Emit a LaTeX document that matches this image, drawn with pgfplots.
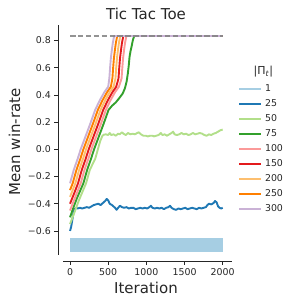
\documentclass[border=0pt]{standalone}
\usepackage{fontspec}
\setmainfont{DejaVu Sans}
\usepackage{pgfplots}
\pgfplotsset{compat=1.18}
\definecolor{c1}{HTML}{A6CEE3}
\definecolor{c25}{HTML}{1F78B4}
\definecolor{c50}{HTML}{B2DF8A}
\definecolor{c75}{HTML}{33A02C}
\definecolor{c100}{HTML}{FB9A99}
\definecolor{c150}{HTML}{E31A1C}
\definecolor{c200}{HTML}{FDBF6F}
\definecolor{c250}{HTML}{FF7F00}
\definecolor{c300}{HTML}{CAB2D6}
\definecolor{tg}{HTML}{262626}
\begin{document}
\begin{tikzpicture}
\path[use as bounding box] (0,0) rectangle (297pt,304pt);
\begin{axis}[
  at={(63.3pt,49pt)}, anchor=south west,
  scale only axis, width=168.4pt, height=230pt,
  xmin=-88, xmax=2118, ymin=-0.777, ymax=0.914,
  axis x line*=bottom, axis y line*=left,
  axis line style={-, draw=tg, line width=0.8pt},
  x axis line style={yshift=-6pt},
  y axis line style={xshift=-5pt},
  tick align=outside, major tick length=4pt,
  xtick style={yshift=-6pt, draw=tg, line width=0.8pt},
  ytick style={xshift=-5pt, draw=tg, line width=0.8pt},
  xtick={0,500,1000,1500,2000},
  xticklabels={0,500,1000,1500,2000},
  ytick={-0.6,-0.4,-0.2,0,0.2,0.4,0.6,0.8},
  yticklabels={−0.6,−0.4,−0.2,0.0,0.2,0.4,0.6,0.8},
  xticklabel style={yshift=-6pt, font=\fontsize{9.4}{11}\selectfont, text=tg},
  yticklabel style={xshift=-5pt, font=\fontsize{9.4}{11}\selectfont, text=tg},
  legend style={at={(1.037,0.742)}, anchor=north west, draw=none, fill=none,
    font=\fontsize{9.4}{11}\selectfont, text=tg, inner sep=0pt, row sep=6pt,
    nodes={inner xsep=3pt, inner ysep=0pt, text height=7pt, text depth=2pt}},
  legend cell align=left,
  legend image code/.code={\draw[#1] (0pt,0pt) -- (22pt,0pt);},
  every axis plot/.append style={line width=1.9pt, line join=round},
]
\addlegendimage{c1, line width=1.9pt}
\addlegendentry{1}
\addplot[c1, line width=14pt, forget plot] coordinates {(0,-0.704)(2000,-0.704)};
% 25
\addplot[c25] coordinates {(0,-0.6)(15,-0.57)(30,-0.52)(45,-0.47)(60,-0.44)(80,-0.43)(100,-0.435)(130,-0.43)(160,-0.435)(190,-0.43)(220,-0.425)(250,-0.43)(280,-0.42)(310,-0.41)(340,-0.405)(370,-0.4)(400,-0.41)(430,-0.395)(460,-0.38)(480,-0.365)(500,-0.375)(520,-0.4)(550,-0.41)(570,-0.42)(590,-0.43)(610,-0.445)(630,-0.43)(655,-0.415)(680,-0.425)(710,-0.43)(740,-0.425)(770,-0.435)(800,-0.43)(830,-0.43)(860,-0.44)(890,-0.435)(920,-0.43)(950,-0.435)(980,-0.43)(1010,-0.435)(1040,-0.425)(1060,-0.415)(1080,-0.43)(1110,-0.435)(1140,-0.43)(1170,-0.435)(1200,-0.43)(1230,-0.44)(1260,-0.43)(1290,-0.425)(1310,-0.415)(1330,-0.43)(1360,-0.44)(1390,-0.445)(1420,-0.435)(1450,-0.44)(1480,-0.435)(1510,-0.43)(1540,-0.44)(1570,-0.435)(1600,-0.43)(1630,-0.435)(1660,-0.44)(1690,-0.43)(1720,-0.435)(1750,-0.43)(1780,-0.425)(1800,-0.41)(1820,-0.4)(1850,-0.405)(1880,-0.395)(1900,-0.38)(1920,-0.39)(1940,-0.42)(1960,-0.43)(1980,-0.435)(2000,-0.43)};
\addlegendentry{25}
% 50
\addplot[c50] coordinates {(0,-0.55)(60,-0.46)(120,-0.37)(210,-0.25)(260,-0.15)(330,-0.07)(365,0.0)(395,0.06)(425,0.1)(445,0.108)(470,0.11)(500,0.105)(520,0.12)(540,0.105)(570,0.11)(600,0.1)(630,0.115)(650,0.11)(680,0.125)(700,0.115)(730,0.105)(760,0.12)(790,0.11)(820,0.115)(850,0.11)(880,0.12)(900,0.125)(930,0.11)(960,0.1)(990,0.1)(1020,0.095)(1050,0.1)(1080,0.1)(1100,0.095)(1130,0.1)(1160,0.105)(1190,0.12)(1210,0.105)(1240,0.11)(1270,0.1)(1300,0.11)(1330,0.12)(1350,0.13)(1370,0.11)(1400,0.105)(1430,0.11)(1460,0.12)(1490,0.11)(1520,0.115)(1550,0.105)(1580,0.11)(1610,0.12)(1640,0.11)(1670,0.115)(1700,0.12)(1730,0.115)(1760,0.105)(1790,0.1)(1820,0.11)(1850,0.105)(1880,0.115)(1910,0.12)(1940,0.13)(1970,0.14)(2000,0.145)};
\addlegendentry{50}
% 75
\addplot[c75] coordinates {(0,-0.5)(50,-0.42)(90,-0.36)(175,-0.25)(225,-0.15)(275,-0.07)(315,0.0)(375,0.09)(435,0.18)(505,0.29)(550,0.32)(600,0.345)(650,0.38)(690,0.41)(720,0.45)(742,0.5)(758,0.56)(770,0.62)(780,0.68)(792,0.72)(808,0.76)(822,0.8)(840,0.833)(2000,0.833)};
\addlegendentry{75}
% 100
\addplot[c100] coordinates {(0,-0.45)(70,-0.35)(140,-0.25)(190,-0.15)(240,-0.07)(280,0.0)(340,0.09)(400,0.18)(470,0.29)(530,0.36)(590,0.42)(640,0.46)(675,0.52)(685,0.6)(695,0.67)(708,0.73)(720,0.78)(738,0.833)(2000,0.833)};
\addlegendentry{100}
% 150
\addplot[c150] coordinates {(0,-0.40)(50,-0.33)(105,-0.25)(155,-0.15)(205,-0.07)(245,0.0)(305,0.09)(365,0.18)(435,0.29)(495,0.36)(555,0.42)(605,0.46)(635,0.52)(645,0.6)(655,0.67)(668,0.73)(680,0.78)(698,0.833)(2000,0.833)};
\addlegendentry{150}
% 200
\addplot[c200] coordinates {(0,-0.35)(70,-0.25)(120,-0.15)(170,-0.07)(210,0.0)(270,0.09)(330,0.18)(400,0.29)(460,0.36)(520,0.42)(570,0.46)(595,0.52)(605,0.6)(615,0.67)(628,0.73)(640,0.78)(658,0.833)(2000,0.833)};
\addlegendentry{200}
% 250
\addplot[c250] coordinates {(0,-0.30)(35,-0.25)(85,-0.15)(135,-0.07)(175,0.0)(235,0.09)(295,0.18)(365,0.29)(425,0.36)(485,0.42)(535,0.46)(555,0.52)(565,0.6)(575,0.67)(588,0.73)(600,0.78)(618,0.833)(2000,0.833)};
\addlegendentry{250}
% 300
\addplot[c300] coordinates {(0,-0.25)(50,-0.15)(100,-0.07)(140,0.0)(200,0.09)(260,0.18)(330,0.29)(390,0.36)(450,0.42)(500,0.46)(515,0.52)(525,0.6)(535,0.67)(548,0.73)(560,0.78)(578,0.833)(2000,0.833)};
\addlegendentry{300}
\addplot[color=gray, opacity=0.85, line width=1.5pt, dash pattern=on 5.5pt off 2.4pt, forget plot] coordinates {(0,0.833)(2000,0.833)};
\end{axis}
\node[anchor=base, font=\fontsize{15}{18}\selectfont, text=tg] at (146pt,284pt) {Tic Tac Toe};
\node[anchor=base, font=\fontsize{15}{18}\selectfont, text=tg] at (146pt,10.7pt) {Iteration};
\node[anchor=base, rotate=90, font=\fontsize{15}{18}\selectfont, text=tg] at (20pt,162pt) {Mean win-rate};
\node[font=\fontsize{11}{13}\selectfont, text=tg] at (263.3pt,232pt) {|Π\textsubscript{\textit{t}}|};
\end{tikzpicture}
\end{document}
